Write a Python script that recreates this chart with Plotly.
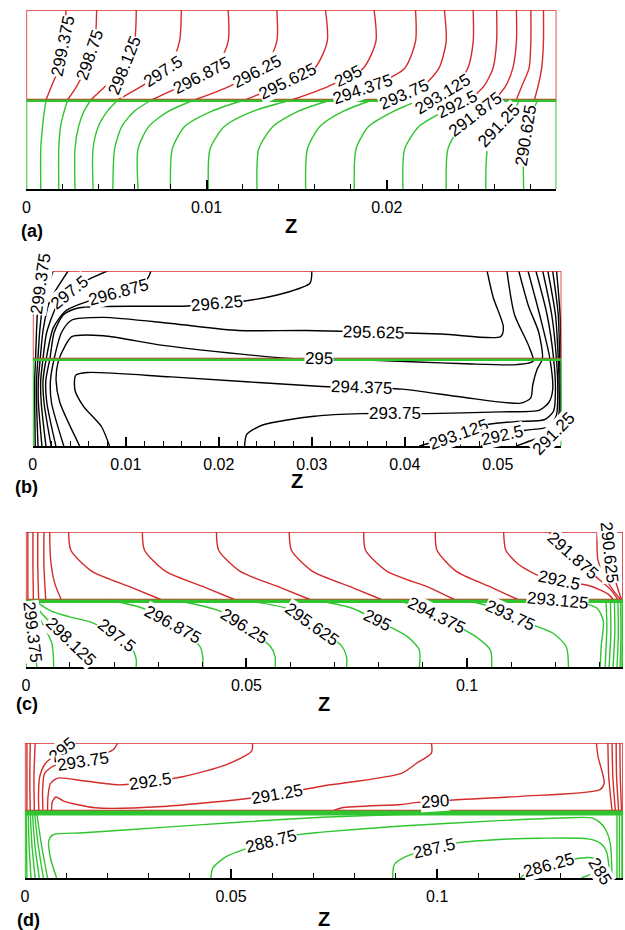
import math
import plotly.graph_objects as go

W, H = 625, 930
FONT = "Liberation Sans, Arial, Helvetica, sans-serif"
RED = "#d42b2b"
GREEN = "#2fc52f"
INK = "#000000"

# ====================== DATA ======================
# z in millimetres along the channel, y: lower channel 0..1, upper channel 1..2
# ---- panel (a): isotherm z-positions at fixed heights ----
A_LEVELS = [299.375, 298.75, 298.125, 297.5, 296.875, 296.25, 295.625, 295.0,
            294.375, 293.75, 293.125, 292.5, 291.875, 291.25, 290.625]
A_UP_ROWS = [2.0, 1.65, 1.35, 1.15, 1.0]
A_UP_Z_MM = [
    [2.2, 2.1, 1.8, 1.4, 1.1],
    [3.9, 3.8, 3.3, 2.8, 2.3],
    [6.1, 6.0, 5.4, 4.4, 3.6],
    [8.6, 8.5, 7.9, 6.4, 5.1],
    [11.2, 11.2, 10.5, 8.6, 7.0],
    [13.9, 13.9, 13.2, 11.3, 9.4],
    [16.6, 16.7, 16.0, 14.0, 12.2],
    [19.3, 19.4, 18.7, 16.8, 14.8],
    [21.6, 21.6, 21.0, 19.2, 17.0],
    [23.2, 23.3, 22.9, 22.0, 20.3],
    [24.8, 24.8, 24.5, 23.8, 22.6],
    [26.1, 26.1, 25.9, 25.4, 24.6],
    [27.2, 27.2, 27.0, 26.6, 26.0],
    [28.0, 28.0, 27.9, 27.5, 27.2],
    [28.7, 28.7, 28.6, 28.4, 28.2],
]
A_LO_ROWS = [0.0, 0.45, 0.7, 0.87, 1.0]
A_LO_Z_MM = [
    [0.8, 0.8, 0.9, 1.0, 1.1],
    [1.8, 1.8, 1.9, 2.1, 2.3],
    [2.7, 2.7, 2.9, 3.2, 3.6],
    [3.7, 3.7, 4.0, 4.5, 5.1],
    [4.8, 4.9, 5.3, 6.0, 7.0],
    [6.2, 6.2, 6.8, 7.9, 9.4],
    [8.0, 8.1, 8.8, 10.3, 12.2],
    [10.1, 10.2, 11.0, 12.6, 14.8],
    [12.8, 12.9, 13.7, 15.1, 17.0],
    [15.5, 15.6, 16.3, 17.6, 19.3],
    [18.2, 18.3, 19.0, 20.4, 21.9],
    [20.9, 21.0, 21.8, 23.2, 24.5],
    [23.3, 23.4, 24.1, 25.2, 26.0],
    [25.5, 25.6, 26.2, 27.0, 27.4],
    [27.6, 27.6, 27.8, 28.1, 28.4],
]
A_UP_LABEL_T = [1.2, 1.5, 1.9, 2.2, 2.4, 2.2, 2.75, 2.45, 3.25, 3.6, 3.6,
                None, None, None, None]
A_LO_LABEL_T = [None] * 11 + [3.55, 2.75, 2.05, 1.6]

# ---- panel (b): isotherm paths (z_mm, y) through both channels ----
B_LEVELS = [299.375, 298.75, 298.125, 297.5, 296.875, 296.25, 295.625, 295.0,
            294.375, 293.75, 293.125, 292.5, 291.875, 291.25, 290.625]
B_PATHS = [
    [(0.26, 0), (0.2, 0.5), (0.2, 0.75), (0.3, 1.0), (0.4, 1.32), (0.6, 1.70), (1.0, 2.0)],
    [(0.56, 0), (0.4, 0.5), (0.4, 0.75), (0.55, 1.0), (0.75, 1.32), (1.2, 1.70), (2.2, 2.0)],
    [(0.98, 0), (0.6, 0.5), (0.6, 0.75), (0.8, 1.0), (1.1, 1.32), (1.8, 1.65), (3.8, 2.0)],
    [(1.41, 0), (0.9, 0.5), (0.85, 0.75), (1.1, 1.0), (1.5, 1.3), (2.9, 1.67), (5.0, 1.85), (8.0, 2.0)],
    [(1.97, 0), (1.2, 0.5), (1.1, 0.75), (1.45, 1.0), (2.2, 1.35), (3.6, 1.55), (6.1, 1.66),
     (9.5, 1.76), (12.3, 1.91), (12.7, 2.0)],
    [(2.48, 0), (1.5, 0.5), (1.4, 0.75), (1.84, 1.0), (2.3, 1.3), (3.3, 1.5), (5.0, 1.58),
     (16.6, 1.60), (23.0, 1.66), (26.8, 1.74), (29.8, 1.86), (30.0, 2.0)],
    [(3.33, 0), (2.0, 0.5), (1.9, 0.75), (2.3, 1.0), (3.1, 1.3), (4.2, 1.44), (7.6, 1.47),
     (14.9, 1.40), (22.1, 1.32), (29.4, 1.32), (43.9, 1.28), (50.3, 1.25), (50.6, 1.36),
     (49.5, 1.70), (48.85, 2.0)],
    [(5.04, 0), (2.9, 0.5), (2.5, 0.75), (2.7, 0.95), (3.5, 1.15), (4.2, 1.25), (7.6, 1.26),
     (14.0, 1.15), (24.3, 1.03), (27.7, 1.0), (33.3, 0.99), (41.4, 0.96), (46.5, 0.94),
     (52.0, 0.93), (53.8, 0.97), (53.3, 1.15), (51.8, 1.5), (50.98, 2.0)],
    [(8.25, 0), (7.39, 0.22), (5.47, 0.45), (4.53, 0.64), (4.62, 0.81), (5.90, 0.84),
     (14.87, 0.79), (31.11, 0.68), (39.66, 0.65), (46.07, 0.56), (52.48, 0.49), (53.55, 0.55),
     (53.76, 0.70), (54.2, 0.87), (54.8, 1.0), (54.4, 1.3), (53.3, 1.6), (52.26, 2.0)],
    [(22.78, 0), (22.99, 0.13), (24.70, 0.24), (30.26, 0.34), (35.38, 0.37), (42.44, 0.37),
     (50.34, 0.39), (54.5, 0.41), (55.5, 0.5), (55.9, 0.64), (55.6, 1.0), (54.5, 1.5), (53.25, 2.0)],
    [(41.58, 0), (45.5, 0.12), (48.63, 0.24), (52.05, 0.28), (55.0, 0.3), (56.0, 0.4),
     (56.2, 0.64), (56.0, 1.0), (55.3, 1.5), (54.10, 2.0)],
    [(48.2, 0), (50.5, 0.12), (53.0, 0.18), (55.5, 0.22), (56.3, 0.35), (56.45, 0.64),
     (56.3, 1.0), (55.8, 1.5), (54.83, 2.0)],
    [(52.0, 0), (54.5, 0.1), (56.2, 0.18), (56.6, 0.4), (56.6, 0.64), (56.5, 1.0), (56.2, 1.5), (55.38, 2.0)],
    [(53.8, 0), (55.5, 0.08), (56.6, 0.2), (56.72, 0.5), (56.65, 1.0), (56.5, 1.5), (55.90, 2.0)],
    [(55.6, 0), (56.5, 0.1), (56.78, 0.3), (56.8, 1.0), (56.7, 1.5), (56.32, 2.0)],
]
B_LABEL_T = [5.5, None, None, 5.5, 6.9, 7.5, 9.5, 9.55, 7.5, 4.5, 1.1, 1.0, None, 1.5, None]

# ---- panel (c) ----
C_UP_LEVELS = [299.375, 298.75, 298.125, 297.5, 296.875, 296.25, 295.625, 295.0,
               294.375, 293.75, 293.125, 292.5, 291.875, 291.25, 290.625]
C_UP_PATHS = [
    [(0.45, 2), (0.45, 1.0)],
    [(1.6, 2), (1.6, 1.5), (1.7, 1.0)],
    [(2.7, 2), (2.7, 1.5), (2.9, 1.0)],
    [(4.1, 2), (4.1, 1.5), (4.5, 1.0)],
    [(5.4, 2), (5.6, 1.6), (6.5, 1.25), (8.0, 1.0)],
    [(9.7, 2), (10.2, 1.73), (14.9, 1.42), (24.3, 1.17), (30.6, 1.0)],
    [(26.4, 2), (26.9, 1.73), (31.6, 1.42), (41.0, 1.17), (47.3, 1.0)],
    [(43.2, 2), (43.7, 1.73), (48.5, 1.42), (58.0, 1.17), (64.4, 1.0)],
    [(59.7, 2), (60.2, 1.73), (64.9, 1.42), (74.3, 1.17), (80.6, 1.0)],
    [(76.6, 2), (77.0, 1.73), (81.8, 1.42), (91.7, 1.17), (97.1, 1.0)],
    [(92.8, 2), (93.2, 1.73), (97.5, 1.42), (105.9, 1.17), (111.5, 1.0)],
    [(108.3, 2), (108.8, 1.73), (111.5, 1.53), (116.0, 1.36), (121.6, 1.28), (127.9, 1.2),
     (132.0, 1.08), (133.1, 1.0)],
    [(118.5, 2.0), (123.9, 1.65), (129.0, 1.35), (132.5, 1.15), (134.2, 1.0)],
    [(129.5, 2), (129.7, 1.58), (131.8, 1.27), (133.3, 1.12), (134.8, 1.0)],
    [(131.8, 2), (132.6, 1.5), (134.0, 1.2), (135.0, 1.0)],
]
C_UP_LABEL_T = [None] * 11 + [3.9, 1.0, None, 0.6]
C_LO_LEVELS = [299.375, 298.75, 298.125, 297.5, 296.875, 296.25, 295.625, 295.0,
               294.375, 293.75, 293.125, 292.5, 291.875, 291.25, 290.625, 290.0, 289.375]
C_LO_PATHS = [
    [(0.6, 1.0), (1.5, 0.5), (2.5, 0.0)],
    [(0.9, 1.0), (2.9, 0.75), (5.9, 0.35), (6.3, 0.0)],
    [(1.4, 1.0), (3.5, 0.8), (6.5, 0.6), (10.5, 0.35), (12.8, 0.15), (13.3, 0.0)],
    [(2.0, 1.0), (3.4, 0.92), (6.0, 0.82), (10.1, 0.74), (14.9, 0.66), (20.5, 0.46),
     (24.0, 0.28), (25.0, 0.12), (25.0, 0.0)],
    [(18.0, 1.0), (26.6, 0.87), (34.9, 0.57), (39.5, 0.3), (40.1, 0.15), (40.1, 0.0)],
    [(33.0, 1.0), (43.9, 0.83), (50.9, 0.54), (55.5, 0.3), (56.5, 0.15), (56.5, 0.0)],
    [(48.0, 1.0), (60.0, 0.85), (66.0, 0.57), (71.5, 0.32), (72.7, 0.15), (72.7, 0.0)],
    [(65.0, 1.0), (74.0, 0.87), (81.1, 0.64), (86.5, 0.45), (89.2, 0.25), (89.2, 0.0)],
    [(83.0, 1.0), (89.0, 0.9), (94.8, 0.71), (102.0, 0.45), (105.3, 0.25), (105.6, 0.0)],
    [(99.0, 1.0), (105.0, 0.9), (111.0, 0.72), (119.5, 0.5), (122.5, 0.3), (123.0, 0.0)],
    [(118.0, 1.0), (126.0, 0.95), (129.5, 0.87), (130.9, 0.68), (130.4, 0.3), (130.2, 0.0)],
    [(131.5, 1.0), (131.7, 0.6), (131.3, 0.0)],
    [(132.5, 1.0), (132.6, 0.5), (132.2, 0.0)],
    [(133.4, 1.0), (133.5, 0.5), (133.1, 0.0)],
    [(134.2, 1.0), (134.3, 0.5), (134.0, 0.0)],
    [(134.8, 1.0), (134.9, 0.5), (134.7, 0.0)],
    [(135.2, 1.0), (135.2, 0.5), (135.1, 0.0)],
]
C_LO_LABEL_T = [0.95, None, 2.9, 5.0, 1.8, 1.8, 1.8, 1.8, 1.7, 1.8, 0.3] + [None] * 6

# ---- panel (d) ----
D_UP_LEVELS = [298.75, 297.5, 296.25, 295.0, 293.75, 292.5, 291.25, 290.0,
               291.25, 292.5, 293.75, 295.0]
D_UP_PATHS = [
    [(0.5, 2), (0.5, 1.0)],
    [(1.3, 2), (1.2, 1.5), (1.3, 1.0)],
    [(2.5, 2), (2.2, 1.5), (2.3, 1.0)],
    [(11.0, 2), (8.0, 1.85), (5.0, 1.70), (3.6, 1.5), (3.3, 1.2), (3.4, 1.0)],
    [(22.5, 2), (21.4, 1.9), (14.2, 1.73), (7.0, 1.66), (4.8, 1.55), (4.3, 1.3), (4.4, 1.0)],
    [(55.2, 2), (55.0, 1.88), (48.9, 1.68), (38.3, 1.50), (28.0, 1.41), (22.9, 1.38),
     (14.2, 1.44), (8.0, 1.48), (6.2, 1.40), (5.6, 1.2), (5.5, 1.0)],
    [(98.6, 2), (98.6, 1.85), (95.0, 1.70), (91.3, 1.55), (72.0, 1.36), (57.0, 1.20),
     (33.5, 1.06), (17.1, 1.04), (9.4, 1.14), (7.5, 1.2), (6.6, 1.12), (6.5, 1.0)],
    [(138.6, 2), (139.0, 1.80), (140.5, 1.41), (139.5, 1.31), (120.2, 1.21), (104.8, 1.16),
     (95.2, 1.12), (91.3, 1.09), (76.9, 1.04), (74.9, 1.0)],
    [(141.4, 2), (141.6, 1.5), (142.4, 1.0)],
    [(142.4, 2), (142.6, 1.5), (143.2, 1.0)],
    [(143.4, 2), (143.5, 1.5), (144.0, 1.0)],
    [(144.3, 2), (144.4, 1.5), (144.7, 1.0)],
]
D_UP_LABEL_T = [None, None, None, 0.7, 2.0, 3.75, 4.73, 5.55, None, None, None, None]
D_LO_LEVELS = [297.5, 296.25, 295.0, 293.75, 292.5, 291.25, 290.0, 288.75, 287.5,
               286.25, 285.0, 290.0, 291.25, 292.5]
D_LO_PATHS = [
    [(0.3, 1.0), (0.4, 0.5), (0.5, 0)],
    [(0.8, 1.0), (1.0, 0.5), (1.5, 0)],
    [(1.3, 1.0), (1.7, 0.5), (2.5, 0)],
    [(1.8, 1.0), (2.4, 0.5), (3.5, 0)],
    [(2.3, 1.0), (3.2, 0.5), (4.5, 0)],
    [(2.8, 1.0), (4.0, 0.5), (5.5, 0)],
    [(7.7, 0.0), (6.2, 0.3), (5.8, 0.55), (6.8, 0.64), (14.2, 0.67), (33.5, 0.75), (52.8, 0.83),
     (72.0, 0.90), (91.3, 0.94), (115.0, 0.96), (135.0, 0.97), (139.5, 0.99)],
    [(45.1, 0.0), (45.6, 0.15), (48.9, 0.32), (53.0, 0.42), (58.1, 0.52), (66.0, 0.64),
     (72.0, 0.68), (91.3, 0.77), (115.0, 0.85), (130.0, 0.89), (137.5, 0.89), (139.5, 0.82),
     (141.0, 0.70), (142.0, 0.5), (142.4, 0.0)],
    [(89.2, 0), (89.6, 0.2), (92.5, 0.32), (97.9, 0.42), (104.8, 0.52), (115.0, 0.57),
     (125.0, 0.59), (136.6, 0.58), (139.5, 0.52), (141.0, 0.40), (141.6, 0.2), (141.7, 0)],
    [(120.2, 0), (122.0, 0.1), (127.0, 0.18), (133.0, 0.28), (137.5, 0.30), (139.8, 0.22),
     (140.6, 0.1), (140.8, 0)],
    [(135.0, 0.0), (137.5, 0.06), (139.5, 0.1), (140.0, 0.05), (140.1, 0)],
    [(143.6, 1.0), (143.6, 0.0)],
    [(144.2, 1.0), (144.2, 0.0)],
    [(144.8, 1.0), (144.8, 0.0)],
]
D_LO_LABEL_T = [None] * 7 + [4.2, 3.2, 2.0, 2.0] + [None] * 3

# ====================== LAYOUT (pixel geometry) ======================
PANELS = [
    dict(sfx="", letter="(a)", left=22.5, right=556, top=10, bottom=189, zmax=0.02942,
         dtick=0.01, minor=0.002, band=2.5, zlab_y=226, letter_y=231, letter_x=28),
    dict(sfx="2", letter="(b)", left=29, right=561, top=271, bottom=446, zmax=0.05684,
         dtick=0.01, minor=0.002, band=2.5, zlab_y=481, letter_y=487, letter_x=23),
    dict(sfx="3", letter="(c)", left=22, right=623, top=532, bottom=667, zmax=0.13536,
         dtick=0.05, minor=0.01, band=3.5, zlab_y=704, letter_y=704, letter_x=23),
    dict(sfx="4", letter="(d)", left=21, right=623, top=743, bottom=878, zmax=0.14506,
         dtick=0.05, minor=0.01, band=5.0, zlab_y=919, letter_y=920, letter_x=25),
]

fig = go.Figure()
annotations = []
shapes = []


def add_lines(P, paths, color):
    s = P["sfx"]
    for path in paths:
        fig.add_trace(go.Scatter(
            x=[p[0] / 1000.0 for p in path], y=[p[1] for p in path], mode="lines",
            line=dict(color=color, width=1.4, shape="spline", smoothing=0.7),
            xaxis="x" + s, yaxis="y" + s, hoverinfo="skip", showlegend=False))


def add_labels(P, levels, paths, ts):
    s = P["sfx"]
    sx = (P["right"] - P["left"]) / (P["zmax"] * 1000.0)
    sy = (P["bottom"] - P["top"]) / 2.0
    for lvl, path, t in zip(levels, paths, ts):
        if t is None:
            continue
        i = min(int(math.floor(t)), len(path) - 2)
        f = t - i
        (z0, y0), (z1, y1) = path[i], path[i + 1]
        z = z0 + f * (z1 - z0)
        y = y0 + f * (y1 - y0)
        ang = -math.degrees(math.atan2((y1 - y0) * sy, (z1 - z0) * sx))
        while ang > 90:
            ang -= 180
        while ang < -90:
            ang += 180
        annotations.append(dict(
            x=z / 1000.0, y=y, xref="x" + s, yref="y" + s, text=f"{lvl:g}",
            showarrow=False, textangle=ang, bgcolor="white", borderpad=0,
            font=dict(family=FONT, size=17, color=INK)))


Pa, Pb, Pc, Pd = PANELS
a_up = [list(zip(zs, A_UP_ROWS)) for zs in A_UP_Z_MM]
a_lo = [list(zip(zs, A_LO_ROWS)) for zs in A_LO_Z_MM]
add_lines(Pa, a_up, RED)
add_lines(Pa, a_lo, GREEN)
add_labels(Pa, A_LEVELS, a_up, A_UP_LABEL_T)
add_labels(Pa, A_LEVELS, a_lo, A_LO_LABEL_T)

add_lines(Pb, B_PATHS, INK)
add_labels(Pb, B_LEVELS, B_PATHS, B_LABEL_T)

add_lines(Pc, C_UP_PATHS, RED)
add_lines(Pc, C_LO_PATHS, GREEN)
add_labels(Pc, C_UP_LEVELS, C_UP_PATHS, C_UP_LABEL_T)
add_labels(Pc, C_LO_LEVELS, C_LO_PATHS, C_LO_LABEL_T)

add_lines(Pd, D_UP_PATHS, RED)
add_lines(Pd, D_LO_PATHS, GREEN)
add_labels(Pd, D_UP_LEVELS, D_UP_PATHS, D_UP_LABEL_T)
add_labels(Pd, D_LO_LEVELS, D_LO_PATHS, D_LO_LABEL_T)

layout_axes = {}
for P in PANELS:
    s = P["sfx"]
    zmax = P["zmax"]
    sy = (P["bottom"] - P["top"]) / 2.0
    layout_axes["xaxis" + s] = dict(
        domain=[P["left"] / W, P["right"] / W], range=[0, zmax], anchor="y" + s,
        showline=True, linecolor=INK, linewidth=2, mirror=False,
        ticks="inside", ticklen=9, tickwidth=1.5, tickcolor=INK,
        tick0=0, dtick=P["dtick"], ticklabelstandoff=3,
        minor=dict(dtick=P["minor"], tick0=0, ticks="inside", ticklen=5,
                   tickwidth=1.2, tickcolor=INK, showgrid=False),
        showgrid=False, zeroline=False, fixedrange=True,
        tickfont=dict(family=FONT, size=16, color=INK))
    layout_axes["yaxis" + s] = dict(
        domain=[(H - P["bottom"]) / H, (H - P["top"]) / H], range=[0, 2],
        anchor="x" + s, visible=False, fixedrange=True)
    xr, yr = "x" + s, "y" + s
    # upper channel box (red)
    shapes.append(dict(type="rect", xref=xr, yref=yr, x0=0, x1=zmax, y0=1, y1=2,
                       line=dict(color=RED, width=1.6), layer="above"))
    # lower channel side walls (green)
    shapes.append(dict(type="line", xref=xr, yref=yr, x0=0, x1=0, y0=0, y1=1,
                       line=dict(color=GREEN, width=2), layer="above"))
    shapes.append(dict(type="line", xref=xr, yref=yr, x0=zmax, x1=zmax, y0=0, y1=1,
                       line=dict(color=GREEN, width=2), layer="above"))
    # interface wall (green band)
    yb = 1 - (P["band"] / 2.0) / sy
    shapes.append(dict(type="line", xref=xr, yref=yr, x0=0, x1=zmax, y0=yb, y1=yb,
                       line=dict(color=GREEN, width=P["band"]), layer="above"))
    cx = (P["left"] + P["right"]) / 2.0
    annotations.append(dict(x=cx / W, y=1 - P["zlab_y"] / H, xref="paper", yref="paper",
                            text="<b>Z</b>", showarrow=False, xanchor="center", yanchor="middle",
                            font=dict(family=FONT, size=20, color=INK)))
    annotations.append(dict(x=P["letter_x"] / W, y=1 - P["letter_y"] / H, xref="paper",
                            yref="paper", text="<b>" + P["letter"] + "</b>", showarrow=False,
                            xanchor="center", yanchor="middle",
                            font=dict(family=FONT, size=18, color=INK)))

fig.update_layout(
    width=W, height=H, margin=dict(l=0, r=0, t=0, b=0),
    paper_bgcolor="white", plot_bgcolor="white", showlegend=False,
    annotations=annotations, shapes=shapes, **layout_axes)

fig.write_html("out.html", config={"displayModeBar": False},
               post_script="document.body.style.margin='0';document.body.style.padding='0';")
